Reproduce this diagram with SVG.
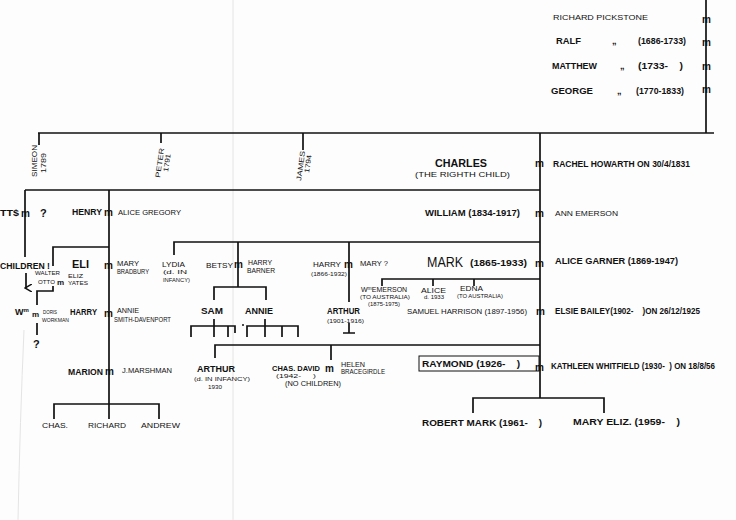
<svg xmlns="http://www.w3.org/2000/svg" width="736" height="520" viewBox="0 0 736 520">
<style>
text{font-family:"Liberation Sans",Arial,sans-serif;fill:#111;}
.n{font-size:9px;font-weight:bold;}
.s{font-size:7px;}
.xs{font-size:6px;}
.b{font-size:11px;font-weight:bold;}
.m{font-size:10px;font-weight:bold;}
.ln{stroke:#111;stroke-width:1.7;fill:none;}
.fold{stroke:#e4e4e4;stroke-width:1;fill:none;}
</style>
<defs>
<marker id="arr" markerWidth="8" markerHeight="8" refX="4" refY="6" orient="auto" markerUnits="userSpaceOnUse">
<path d="M0,0 L4,7 L8,0" fill="none" stroke="#111" stroke-width="1.5"/>
</marker>
</defs>
<rect width="736" height="520" fill="#fdfdfd"/>
<path class="fold" d="M233,0 V520"/>
<path class="fold" d="M24,330 Q20,420 18,520"/>

<g id="connectors">
<path class="ln" d="M706,0 V133"/>
<path class="ln" d="M38,133 H714"/>
<path class="ln" d="M39,133 V145"/>
<path class="ln" d="M161,133 V143"/>
<path class="ln" d="M303,133 V150"/>
<path class="ln" d="M540,133 V398"/>
<path class="ln" d="M25,190 H540"/>
<path class="ln" d="M25,190 V257"/>
<path class="ln" d="M109,190 V404"/>
<path class="ln" d="M26,273 V288" marker-end="url(#arr)"/>
<path class="ln" d="M109,247 H53 V266"/>
<path class="ln" d="M53,286 V291 H37 V305"/>
<path class="ln" d="M37,323 V335"/>
<path class="ln" d="M54,419 V404 H159 V419"/>
<path class="ln" d="M109,404 V419"/>
<path class="ln" d="M174,255 V242 H540"/>
<path class="ln" d="M238,242 V287"/>
<path class="ln" d="M214,300 V287 H266 V300"/>
<path class="ln" d="M191,337 V326 H235 V333"/>
<path class="ln" d="M214,319 V337"/>
<path class="ln" d="M228,326 V337"/>
<path class="ln" d="M247,337 V326 H298 V337"/>
<path class="ln" d="M265,319 V337"/>
<path class="ln" d="M282,326 V337"/>
<circle cx="243" cy="325" r="1" fill="#111"/>
<path class="ln" d="M349,242 V302"/>
<path class="ln" d="M349,323 V333 M343,333 H355"/>
<path class="ln" d="M382,286 V279 H540"/>
<path class="ln" d="M433,279 V286"/>
<path class="ln" d="M474,279 V286"/>
<path class="ln" d="M215,358 V345 H540"/>
<path class="ln" d="M331,345 V360"/>
<path class="ln" d="M473,413 V398 H604 V413"/>
</g>

<g id="ancestors">
<text x="553" y="20" class="s" textLength="95" lengthAdjust="spacingAndGlyphs">RICHARD PICKSTONE</text>
<text x="556" y="44" class="n" textLength="25" lengthAdjust="spacingAndGlyphs">RALF</text>
<text x="612" y="44" class="n">„</text>
<text x="638" y="44" class="n" textLength="48" lengthAdjust="spacingAndGlyphs">(1686-1733)</text>
<text x="552" y="69" class="n" textLength="45" lengthAdjust="spacingAndGlyphs">MATTHEW</text>
<text x="620" y="69" class="n">„</text>
<text x="638" y="69" class="n" textLength="45" lengthAdjust="spacingAndGlyphs">(1733-&#160;&#160;&#160;&#160;)</text>
<text x="551" y="94" class="n" textLength="42" lengthAdjust="spacingAndGlyphs">GEORGE</text>
<text x="617" y="94" class="n">„</text>
<text x="636" y="94" class="n" textLength="48" lengthAdjust="spacingAndGlyphs">(1770-1833)</text>
<text x="702" y="23" class="m">m</text>
<text x="702" y="46" class="m">m</text>
<text x="702" y="70" class="m">m</text>
<text x="702" y="93" class="m">m</text>
</g>

<g id="simeon">
<text class="s" transform="translate(37,177) rotate(-90)" textLength="32" lengthAdjust="spacingAndGlyphs">SIMEON</text>
<text class="s" transform="translate(46,173) rotate(-90)" textLength="20" lengthAdjust="spacingAndGlyphs">1789</text>
</g>
<g id="peter">
<text class="s" transform="translate(160,178) rotate(-82)" textLength="30" lengthAdjust="spacingAndGlyphs">PETER</text>
<text class="s" transform="translate(168,172) rotate(-82)" textLength="18" lengthAdjust="spacingAndGlyphs">1791</text>
</g>
<g id="james">
<text class="s" transform="translate(301,181) rotate(-82)" textLength="30" lengthAdjust="spacingAndGlyphs">JAMES</text>
<text class="s" transform="translate(309,173) rotate(-82)" textLength="18" lengthAdjust="spacingAndGlyphs">1794</text>
</g>

<g id="charles">
<text x="435" y="167" class="b" textLength="52" lengthAdjust="spacingAndGlyphs">CHARLES</text>
<text x="415" y="177" class="s" textLength="95" lengthAdjust="spacingAndGlyphs">(THE RIGHTH CHILD)</text>
<text x="535" y="167" class="m">m</text>
<text x="553" y="167" class="n" textLength="137" lengthAdjust="spacingAndGlyphs">RACHEL HOWARTH ON 30/4/1831</text>
</g>

<g id="simeon-line">
<text x="0" y="216" class="n" textLength="19" lengthAdjust="spacingAndGlyphs">TT$</text>
<text x="21" y="217" class="m">m</text>
<text x="40" y="217" class="b">?</text>
<text x="0" y="269" class="n" textLength="50" lengthAdjust="spacingAndGlyphs">CHILDREN !</text>
</g>

<g id="henry">
<text x="72" y="215" class="n" textLength="30" lengthAdjust="spacingAndGlyphs">HENRY</text>
<text x="104" y="216" class="m">m</text>
<text x="118" y="215" class="s" textLength="63" lengthAdjust="spacingAndGlyphs">ALICE GREGORY</text>
</g>

<g id="walter">
<text x="35" y="275" class="xs" textLength="25" lengthAdjust="spacingAndGlyphs">WALTER</text>
<text x="38" y="284" class="xs" textLength="17" lengthAdjust="spacingAndGlyphs">OTTO</text>
<text x="57" y="285" class="m" style="font-size:8px">m</text>
<text x="68" y="278" class="xs" textLength="15" lengthAdjust="spacingAndGlyphs">ELIZ</text>
<text x="68" y="285" class="xs" textLength="20" lengthAdjust="spacingAndGlyphs">YATES</text>
</g>

<g id="wm-doris">
<text x="15" y="315" class="n">W<tspan font-size="6" dy="-3">m</tspan></text>
<text x="32" y="317" class="m" style="font-size:8px">m</text>
<text x="43" y="314" class="xs" textLength="14" lengthAdjust="spacingAndGlyphs">DORIS</text>
<text x="42" y="322" class="xs" textLength="27" lengthAdjust="spacingAndGlyphs">WORKMAN</text>
<text x="33" y="348" class="b">?</text>
</g>

<g id="eli">
<text x="72" y="268" class="b" textLength="17" lengthAdjust="spacingAndGlyphs">ELI</text>
<text x="104" y="269" class="m">m</text>
<text x="117" y="266" class="s" textLength="22" lengthAdjust="spacingAndGlyphs">MARY</text>
<text x="117" y="274" class="s" textLength="32" lengthAdjust="spacingAndGlyphs">BRADBURY</text>
</g>

<g id="harry-smith">
<text x="70" y="315" class="n" textLength="27" lengthAdjust="spacingAndGlyphs">HARRY</text>
<text x="104" y="317" class="m">m</text>
<text x="117" y="313" class="s" textLength="22" lengthAdjust="spacingAndGlyphs">ANNIE</text>
<text x="114" y="322" class="s" textLength="57" lengthAdjust="spacingAndGlyphs">SMITH-DAVENPORT</text>
</g>

<g id="marion">
<text x="68" y="375" class="n" textLength="35" lengthAdjust="spacingAndGlyphs">MARION</text>
<text x="105" y="375" class="m">m</text>
<text x="122" y="373" class="s" textLength="50" lengthAdjust="spacingAndGlyphs">J.MARSHMAN</text>
</g>
<g id="chas"><text x="42" y="428" class="s" textLength="26" lengthAdjust="spacingAndGlyphs">CHAS.</text></g>
<g id="richard"><text x="88" y="428" class="s" textLength="38" lengthAdjust="spacingAndGlyphs">RICHARD</text></g>
<g id="andrew"><text x="141" y="428" class="s" textLength="39" lengthAdjust="spacingAndGlyphs">ANDREW</text></g>

<g id="william">
<text x="425" y="216" class="n" textLength="95" lengthAdjust="spacingAndGlyphs">WILLIAM (1834-1917)</text>
<text x="535" y="217" class="m">m</text>
<text x="555" y="216" class="s" textLength="63" lengthAdjust="spacingAndGlyphs">ANN EMERSON</text>
</g>

<g id="lydia">
<text x="162" y="267" class="s" textLength="23" lengthAdjust="spacingAndGlyphs">LYDIA</text>
<text x="163" y="274" class="xs" textLength="24" lengthAdjust="spacingAndGlyphs">(d. IN</text>
<text x="163" y="282" class="xs" textLength="27" lengthAdjust="spacingAndGlyphs">INFANCY)</text>
</g>

<g id="betsy">
<text x="206" y="268" class="s" textLength="27" lengthAdjust="spacingAndGlyphs">BETSY</text>
<text x="234" y="268" class="m">m</text>
<text x="248" y="265" class="s" textLength="24" lengthAdjust="spacingAndGlyphs">HARRY</text>
<text x="247" y="273" class="s" textLength="28" lengthAdjust="spacingAndGlyphs">BARNER</text>
</g>
<g id="sam"><text x="201" y="314" class="n" textLength="22" lengthAdjust="spacingAndGlyphs">SAM</text></g>
<g id="annie"><text x="245" y="314" class="n" textLength="28" lengthAdjust="spacingAndGlyphs">ANNIE</text></g>

<g id="harry-mary">
<text x="313" y="267" class="s" textLength="28" lengthAdjust="spacingAndGlyphs">HARRY</text>
<text x="344" y="268" class="m">m</text>
<text x="360" y="266" class="s" textLength="28" lengthAdjust="spacingAndGlyphs">MARY ?</text>
<text x="311" y="276" class="xs" textLength="36" lengthAdjust="spacingAndGlyphs">(1866-1932)</text>
</g>
<g id="arthur-1901">
<text x="327" y="314" class="n" textLength="33" lengthAdjust="spacingAndGlyphs">ARTHUR</text>
<text x="327" y="323" class="xs" textLength="37" lengthAdjust="spacingAndGlyphs">(1901-1916)</text>
</g>

<g id="mark">
<text x="427" y="267" style="font-size:15px" textLength="36" lengthAdjust="spacingAndGlyphs">MARK</text>
<text x="470" y="266" class="n" textLength="57" lengthAdjust="spacingAndGlyphs">(1865-1933)</text>
<text x="535" y="267" class="m">m</text>
<text x="555" y="264" class="n" textLength="123" lengthAdjust="spacingAndGlyphs">ALICE GARNER (1869-1947)</text>
</g>

<g id="wm-emerson">
<text x="361" y="292" class="s">W<tspan font-size="5" dy="-2">m</tspan><tspan dy="2">EMERSON</tspan></text>
<text x="360" y="299" class="xs" textLength="50" lengthAdjust="spacingAndGlyphs">(TO AUSTRALIA)</text>
<text x="368" y="306" style="font-size:5.5px" textLength="32" lengthAdjust="spacingAndGlyphs">(1875-1975)</text>
</g>
<g id="alice">
<text x="421" y="293" class="s" textLength="25" lengthAdjust="spacingAndGlyphs">ALICE</text>
<text x="424" y="299" style="font-size:5.5px" textLength="20" lengthAdjust="spacingAndGlyphs">d. 1933</text>
</g>
<g id="edna">
<text x="460" y="291" class="s" textLength="23" lengthAdjust="spacingAndGlyphs">EDNA</text>
<text x="457" y="298" class="xs" textLength="46" lengthAdjust="spacingAndGlyphs">(TO AUSTRALIA)</text>
</g>

<g id="samuel">
<text x="407" y="314" style="font-size:8px" textLength="120" lengthAdjust="spacingAndGlyphs">SAMUEL HARRISON (1897-1956)</text>
<text x="536" y="315" class="m">m</text>
<text x="555" y="314" class="n" textLength="145" lengthAdjust="spacingAndGlyphs">ELSIE BAILEY(1902-&#160;&#160;&#160;&#160;)ON 26/12/1925</text>
</g>

<g id="arthur-1930">
<text x="197" y="372" class="n" textLength="38" lengthAdjust="spacingAndGlyphs">ARTHUR</text>
<text x="194" y="381" class="xs" textLength="56" lengthAdjust="spacingAndGlyphs">(d. IN INFANCY)</text>
<text x="208" y="389" class="xs" textLength="14" lengthAdjust="spacingAndGlyphs">1930</text>
</g>

<g id="chas-david">
<text x="272" y="371" class="s" style="font-weight:bold" textLength="48" lengthAdjust="spacingAndGlyphs">CHAS. DAVID</text>
<text x="325" y="372" class="m">m</text>
<text x="341" y="367" class="s" textLength="24" lengthAdjust="spacingAndGlyphs">HELEN</text>
<text x="341" y="374" class="s" textLength="44" lengthAdjust="spacingAndGlyphs">BRACEGIRDLE</text>
<text x="276" y="378" class="xs" textLength="40" lengthAdjust="spacingAndGlyphs">(1942-&#160;&#160;&#160;&#160;&#160;)</text>
<text x="285" y="386" class="s" textLength="56" lengthAdjust="spacingAndGlyphs">(NO CHILDREN)</text>
</g>

<g id="raymond">
<rect x="419" y="356" width="120" height="15" fill="none" stroke="#111" stroke-width="1"/>
<text x="422" y="367" class="n" textLength="98" lengthAdjust="spacingAndGlyphs">RAYMOND (1926-&#160;&#160;&#160;&#160;)</text>
<text x="535" y="371" class="m">m</text>
<text x="551" y="369" class="n" textLength="164" lengthAdjust="spacingAndGlyphs">KATHLEEN WHITFIELD (1930-&#160;&#160;) ON 18/8/56</text>
</g>

<g id="robert">
<text x="422" y="426" class="n" textLength="120" lengthAdjust="spacingAndGlyphs">ROBERT MARK (1961-&#160;&#160;&#160;&#160;)</text>
</g>
<g id="mary-eliz">
<text x="573" y="425" class="n" textLength="107" lengthAdjust="spacingAndGlyphs">MARY ELIZ. (1959-&#160;&#160;&#160;&#160;)</text>
</g>
</svg>
